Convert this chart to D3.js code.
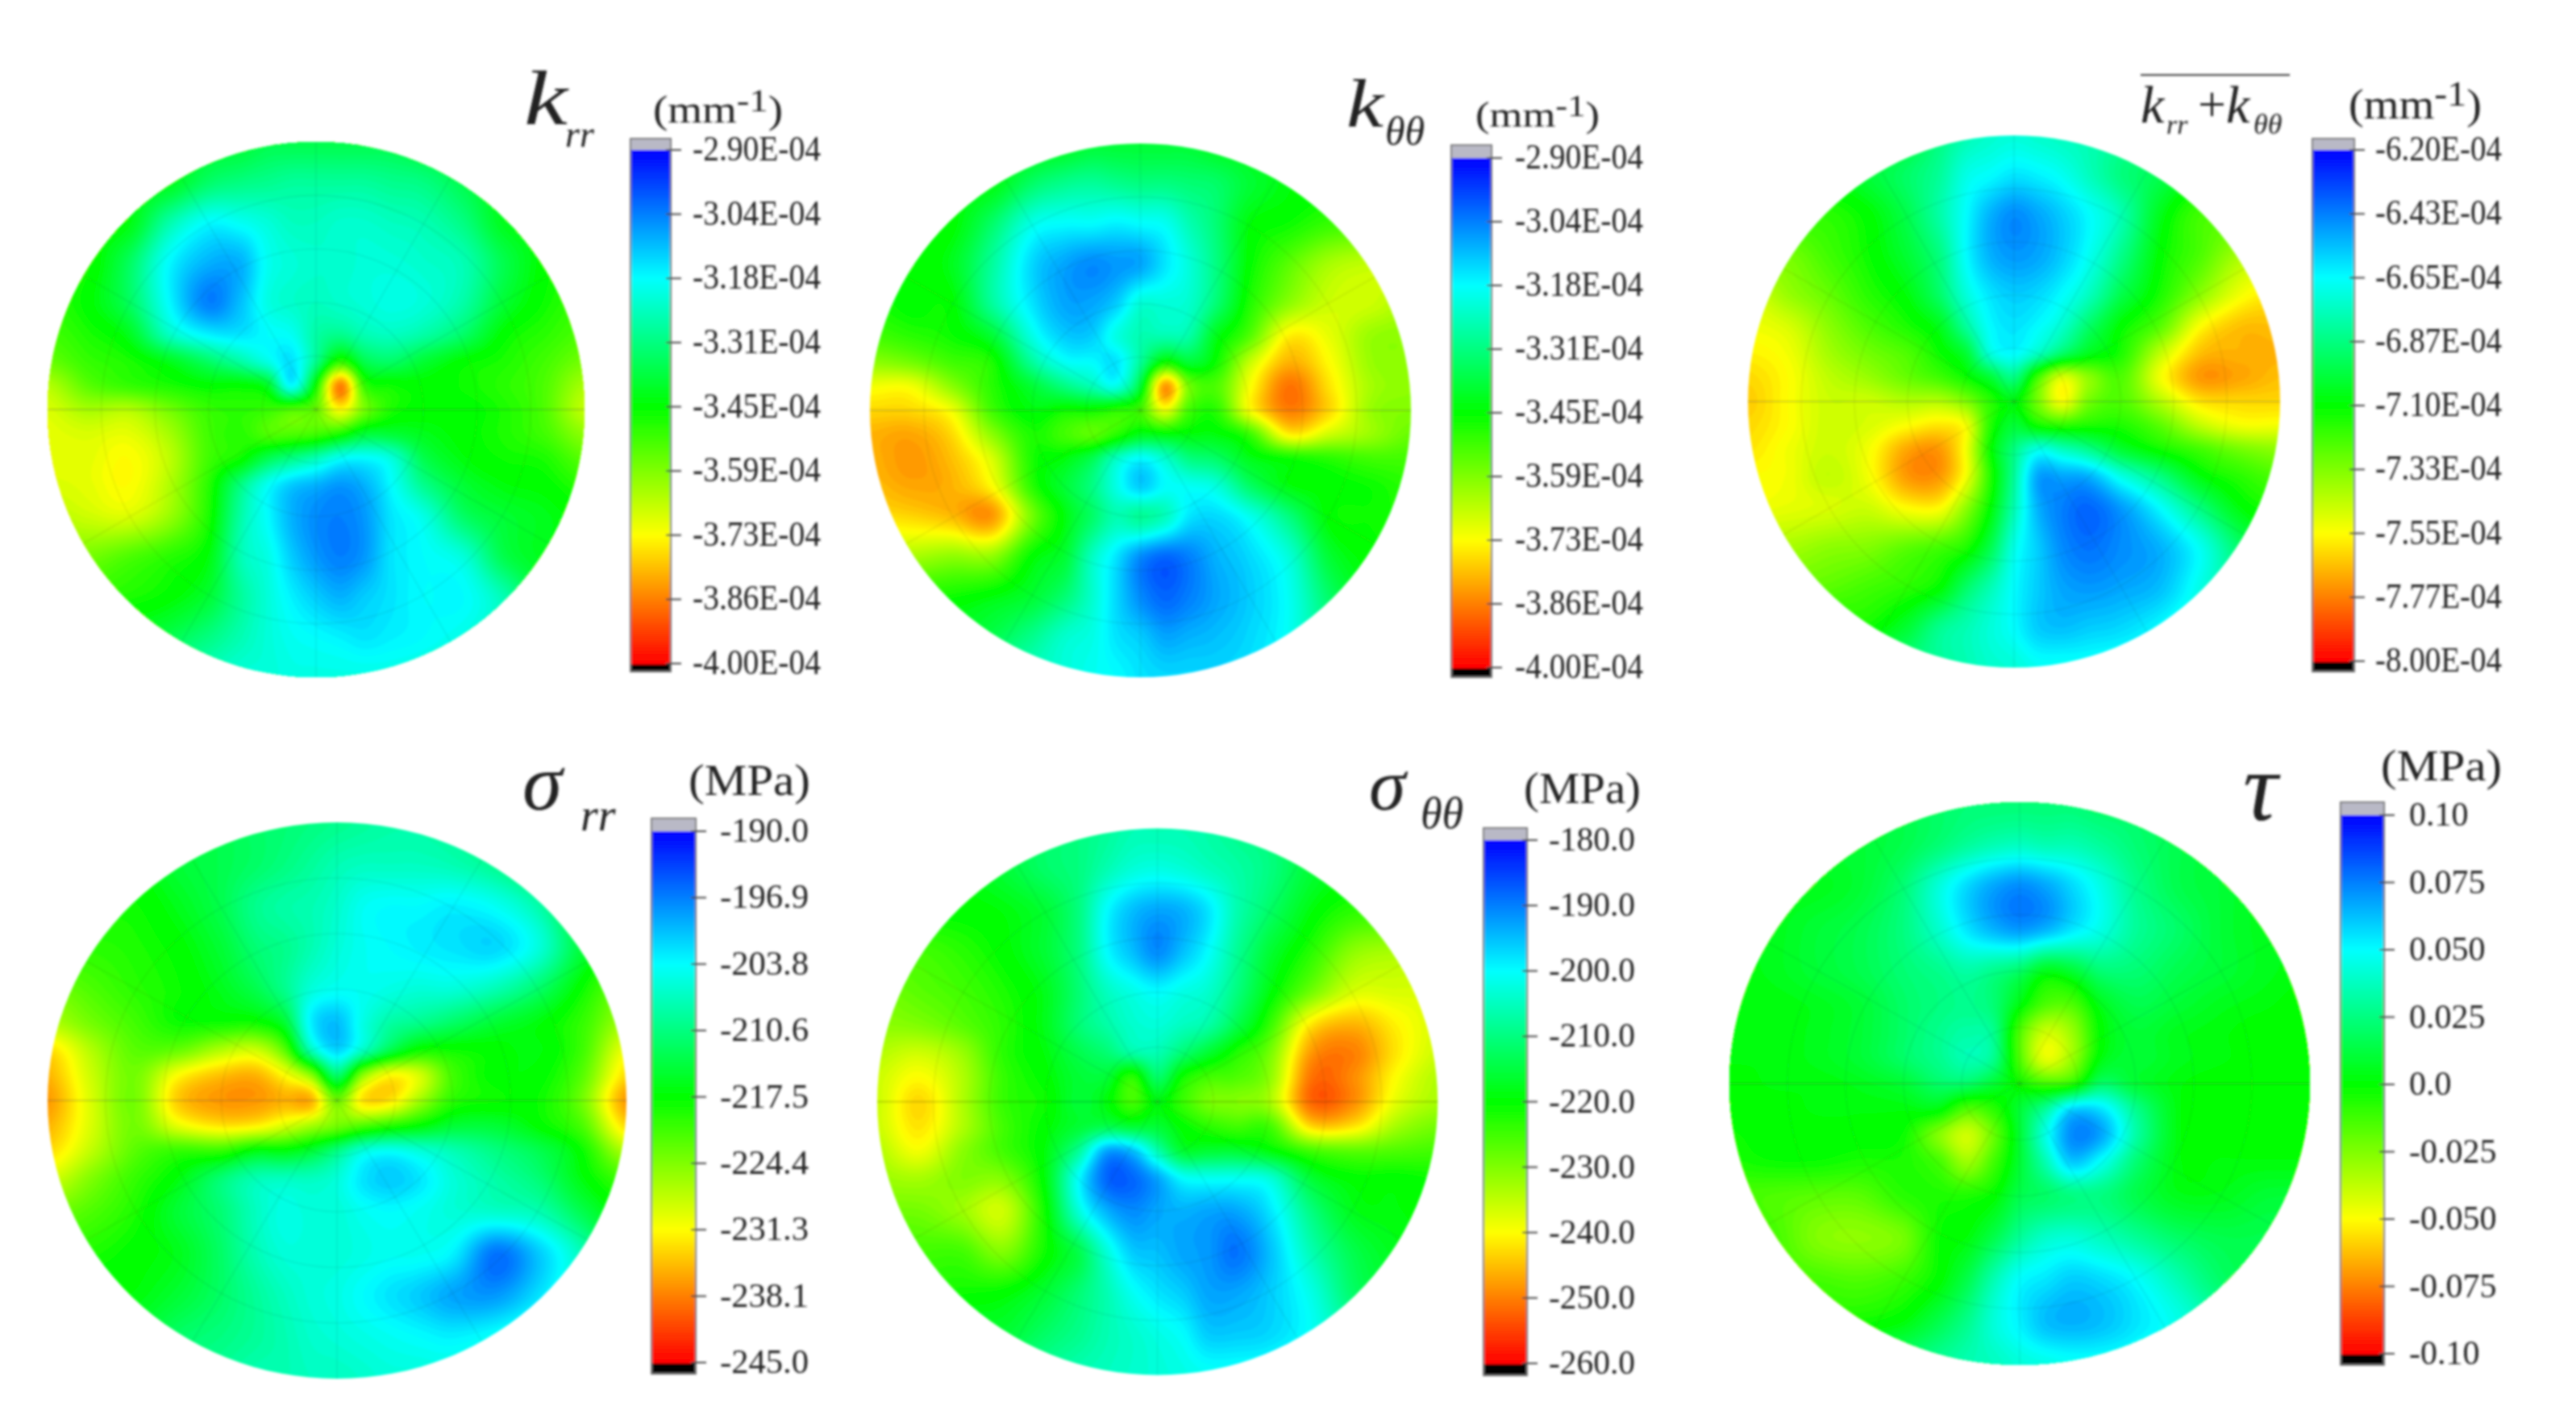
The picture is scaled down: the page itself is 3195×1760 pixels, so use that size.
<!DOCTYPE html>
<html><head><meta charset="utf-8">
<script src="https://cdnjs.cloudflare.com/ajax/libs/d3/7.8.5/d3.min.js"></script>
<style>html,body{margin:0;background:#fff}svg{display:block}text{font-family:"Liberation Serif",serif;fill:#222}</style>
</head><body>
<script>
// Legend position of each grid node: 0 = top of legend, 80 = bottom of legend.
const nodes = [-1,-.85,-.7,-.55,-.4,-.28,-.18,-.09,0,.09,.18,.28,.4,.55,.7,.85,1];

const ticksKrr = ["-2.90E-04","-3.04E-04","-3.18E-04","-3.31E-04","-3.45E-04","-3.59E-04","-3.73E-04","-3.86E-04","-4.00E-04"];
const ticksKtt = ticksKrr;
const ticksKsum = ["-6.20E-04","-6.43E-04","-6.65E-04","-6.87E-04","-7.10E-04","-7.33E-04","-7.55E-04","-7.77E-04","-8.00E-04"];
const ticksSrr = ["-190.0","-196.9","-203.8","-210.6","-217.5","-224.4","-231.3","-238.1","-245.0"];
const ticksStt = ["-180.0","-190.0","-200.0","-210.0","-220.0","-230.0","-240.0","-250.0","-260.0"];
const ticksTau = ["0.10","0.075","0.050","0.025","0.0","-0.025","-0.050","-0.075","-0.10"];

const gridKrr = [
[36,36,36,36,36,36,34,34,34,34,34,34,36,36,36,36,36],
[38,38,38,38,32,30,29,28,28,28,28,29,30,34,38,38,38],
[39,39,39,27,20,21,23,25,25,24,24,25,26,30,38,39,39],
[41,41,33,20,14,14,21,23,24,24,23,23,24,26,34,40,41],
[43,40,33,20,10,15,22,24,25,24,23,22,23,27,36,41,44],
[45,42,38,25,19,18,20,21,27,29,26,25,27,32,40,43,46],
[48,44,42,38,32,27,22,18,29,43,34,32,36,40,42,45,49],
[54,47,44,42,40,40,37,20,41,70,44,41,40,41,43,46,53],
[57,53,54,49,44,43,44,46,48,60,49,42,40,40,42,46,55],
[58,57,58,53,45,43,46,46,45,42,36,36,38,40,42,45,51],
[58,58,60,55,45,41,34,30,26,21,20,23,34,39,41,42,47],
[57,58,60,54,43,30,21,16,14,12,14,20,29,36,39,40,43],
[54,56,57,52,42,27,20,14,11,10,12,18,22,32,36,38,40],
[49,49,46,43,39,26,22,16,12,10,12,18,20,23,34,38,39],
[44,43,42,40,36,28,23,19,16,14,16,18,20,20,26,36,36],
[39,36,36,34,30,26,23,21,20,19,18,19,20,22,26,32,36],
[26,26,26,26,25,23,23,22,22,22,22,22,23,25,26,30,32]];

const gridKtt = [
[39,39,39,39,39,38,36,36,36,36,36,38,39,40,40,40,40],
[39,39,39,39,32,29,28,29,30,30,31,32,36,39,40,40,40],
[40,40,40,32,22,20,20,19,20,21,26,31,39,41,44,45,45],
[41,41,38,28,17,13,11,12,13,18,23,30,40,47,53,55,55],
[42,40,40,28,18,13,13,16,23,23,24,31,42,51,56,56,53],
[45,43,41,36,22,16,16,22,26,26,27,38,46,61,58,52,51],
[51,49,45,42,28,21,20,18,28,41,36,41,55,66,60,52,51],
[59,59,51,43,36,30,26,22,36,68,49,46,59,71,62,53,51],
[63,63,59,45,39,41,41,43,45,58,45,43,59,70,63,52,50],
[66,67,63,51,42,45,47,43,38,39,39,39,44,61,56,52,48],
[66,68,65,57,42,39,34,25,20,24,30,32,38,41,43,45,45],
[65,67,66,60,43,36,30,22,16,20,21,23,32,39,40,41,43],
[62,63,65,68,49,39,32,26,28,25,18,17,21,30,40,41,42],
[53,53,51,51,40,36,25,18,11,8,10,14,17,23,36,40,41],
[43,42,41,39,36,31,24,17,11,8,10,13,16,21,32,39,39],
[36,36,36,34,29,24,22,18,16,13,14,15,17,21,30,36,36],
[26,26,26,26,25,23,21,20,18,17,17,17,18,21,26,30,32]];

const gridKsum = [
[39,39,39,39,36,30,26,24,23,24,25,26,28,32,39,39,39],
[41,41,39,36,32,28,22,20,18,19,21,25,30,34,39,39,39],
[43,43,43,40,34,27,20,14,11,13,16,20,26,38,45,45,45],
[49,49,45,41,36,30,20,14,12,13,16,21,29,40,46,53,55],
[57,52,48,43,39,32,23,18,16,17,20,25,34,42,51,59,62],
[59,57,51,46,42,38,28,20,18,20,24,32,40,47,60,65,65],
[61,59,53,49,46,41,36,23,20,25,32,38,42,55,65,66,66],
[63,60,55,52,48,45,41,36,30,45,57,51,46,59,68,67,65],
[64,60,56,56,54,54,50,43,39,49,59,49,46,54,62,63,63],
[63,60,56,57,60,62,59,43,36,41,43,42,42,47,55,59,59],
[62,59,56,59,67,68,59,41,30,22,25,29,36,41,45,49,51],
[60,59,55,59,68,68,59,43,28,13,13,14,22,30,39,43,46],
[59,58,57,56,60,60,51,40,26,14,10,8,12,20,30,39,42],
[53,53,51,50,47,45,42,34,22,16,11,9,11,14,21,32,39],
[49,48,47,45,43,40,32,26,20,16,13,12,13,15,22,30,36],
[43,43,41,41,36,29,26,23,20,16,15,16,17,20,25,30,32],
[36,36,36,32,30,28,26,24,23,21,21,21,22,23,26,30,32]];

const gridSrr = [
[36,36,36,36,34,32,31,30,29,28,27,27,28,30,32,36,36],
[39,39,39,36,34,32,30,28,26,25,25,25,26,29,34,36,36],
[41,41,41,38,34,29,27,26,24,21,20,20,19,21,27,38,40],
[43,43,42,40,36,31,29,26,23,21,20,19,18,17,23,36,43],
[49,46,43,41,38,34,29,23,21,21,22,23,23,26,32,41,49],
[54,49,45,41,41,41,36,19,15,22,27,29,32,36,39,44,53],
[63,54,47,48,54,56,47,26,17,25,34,41,41,40,39,45,59],
[66,56,49,60,65,66,60,51,32,51,60,57,45,40,40,47,63],
[68,57,49,64,68,68,66,66,49,62,62,53,43,41,41,49,68],
[66,57,49,58,62,61,57,53,49,46,43,40,36,36,40,46,63],
[63,55,47,44,44,39,39,36,30,23,21,23,26,30,34,41,54],
[57,50,44,39,31,26,25,25,23,18,16,18,23,27,31,39,45],
[49,46,42,36,31,25,22,23,23,21,20,21,23,24,26,34,41],
[43,42,40,38,32,26,23,23,23,22,21,21,19,9,16,26,39],
[39,39,39,36,32,28,25,23,22,20,18,16,13,12,18,26,32],
[36,36,36,32,30,28,26,24,23,22,21,20,19,21,25,30,32],
[32,32,32,30,28,26,26,25,25,24,23,23,23,25,26,30,32]];

const gridStt = [
[39,39,39,36,32,30,28,26,26,26,27,29,31,36,39,39,39],
[39,39,39,36,32,30,26,23,22,23,25,27,30,36,39,39,39],
[40,40,40,39,36,30,20,15,13,14,18,26,32,39,43,43,43],
[45,45,43,40,36,30,20,15,11,15,20,28,36,43,51,53,53],
[49,47,45,42,38,31,25,22,20,22,24,30,39,49,57,57,57],
[51,50,47,43,38,31,27,24,23,25,27,34,44,62,66,61,57],
[54,56,52,43,39,34,31,27,26,31,36,42,49,68,70,62,56],
[56,60,54,44,40,36,36,43,32,41,45,46,51,71,69,60,54],
[56,63,54,44,41,36,39,45,39,44,49,50,53,72,69,58,53],
[56,62,54,45,40,36,34,36,36,40,43,45,45,63,62,53,49],
[54,59,51,45,39,28,13,15,26,36,36,36,39,45,47,46,45],
[52,53,50,50,39,20,8,8,13,20,21,21,23,36,40,40,41],
[49,49,52,56,41,23,14,11,13,14,13,13,18,30,38,39,40],
[45,45,45,50,41,34,23,16,15,13,12,9,15,26,34,38,39],
[42,42,41,40,36,31,26,21,18,16,13,13,16,22,32,36,36],
[39,39,36,36,32,29,26,24,22,20,16,16,17,21,28,32,32],
[32,32,32,30,28,26,25,24,23,22,21,21,22,25,28,30,32]];

const gridTau = [
[36,36,36,36,34,32,31,31,31,31,31,32,32,34,36,36,36],
[36,36,36,36,34,31,28,26,25,26,26,28,31,34,36,36,36],
[38,38,38,36,31,23,17,13,11,13,17,22,29,34,36,38,38],
[38,38,36,34,30,24,18,14,12,14,18,22,28,32,36,38,38],
[39,38,36,34,31,29,27,29,32,38,36,31,31,34,36,38,39],
[39,39,38,36,32,30,29,31,39,46,46,38,34,36,38,39,40],
[39,39,38,36,32,29,27,29,46,56,52,40,36,38,39,40,40],
[39,39,38,36,32,29,26,29,46,58,52,39,36,38,39,40,40],
[40,39,39,38,36,32,32,36,41,45,43,32,36,39,40,40,40],
[40,40,39,39,39,39,46,43,36,28,17,18,29,39,40,40,40],
[41,40,40,40,41,50,56,48,36,22,11,13,27,39,40,40,40],
[42,41,41,42,42,45,52,45,36,26,16,21,31,39,39,39,39],
[45,46,47,47,43,42,42,40,34,32,30,30,34,38,38,36,36],
[43,45,50,51,49,41,39,34,28,24,23,25,28,32,34,34,34],
[43,44,45,46,44,40,34,26,20,18,16,17,20,26,32,34,34],
[39,41,41,41,39,34,29,23,19,15,14,15,18,22,28,32,34],
[32,32,32,32,30,28,26,25,23,22,21,21,22,25,28,30,32]];

const panels = [
 {grid:gridKrr,ticks:ticksKrr,max:-2.9e-4,min:-4e-4,cx:392,cy:508,rx:333,ry:332,bar:[782,832,172,833],tick:[186,823],lx:859,lw:159,fs:44,unit:["(mm","-1",")"],ux:810,uy:152,uw:161,ufs:48},
 {grid:gridKtt,ticks:ticksKtt,max:-2.9e-4,min:-4e-4,cx:1414.5,cy:509,rx:335.5,ry:331,bar:[1800,1850,180,840],tick:[196,828],lx:1879,lw:159,fs:44,unit:["(mm","-1",")"],ux:1830,uy:157,uw:154,ufs:44},
 {grid:gridKsum,ticks:ticksKsum,max:-6.2e-4,min:-8e-4,cx:2498,cy:498,rx:330,ry:330,bar:[2868,2920,172,833],tick:[186,820],lx:2946,lw:157,fs:44,unit:["(mm","-1",")"],ux:2913,uy:147,uw:165,ufs:52},
 {grid:gridSrr,ticks:ticksSrr,max:-190,min:-245,cx:418,cy:1365,rx:359,ry:345,bar:[808,863,1015,1704],tick:[1031,1690],lx:893,lw:110,fs:42,unit:["(MPa)"],ux:854,uy:986,uw:151,ufs:54},
 {grid:gridStt,ticks:ticksStt,max:-180,min:-260,cx:1435.6,cy:1366.5,rx:347.6,ry:339,bar:[1840,1894,1027,1706],tick:[1042,1691],lx:1921,lw:107,fs:42,unit:["(MPa)"],ux:1890,uy:996,uw:145,ufs:54},
 {grid:gridTau,ticks:ticksTau,max:0.1,min:-0.1,cx:2505,cy:1344,rx:360,ry:349,bar:[2903,2957,995,1693],tick:[1011,1679],lx:2988,lw:null,fs:42,unit:["(MPa)"],ux:2953,uy:968,uw:150,ufs:54}
];

const W=3195,H=1760;
const svg=d3.select("body").append("svg").attr("width",W).attr("height",H);
const defs=svg.append("defs");
defs.append("filter").attr("id","soft").attr("filterUnits","userSpaceOnUse").attr("x",0).attr("y",0).attr("width",W).attr("height",H)
  .append("feGaussianBlur").attr("stdDeviation",1.6);
const root=svg.append("g").attr("filter","url(#soft)");

const rainbow=["#0000ff","#00ffff","#00ff00","#ffff00","#ff0000"];
const idx=d3.scaleLinear().domain(nodes).range(nodes.map((d,i)=>i));
function cr(p0,p1,p2,p3,t){return .5*((2*p1)+(-p0+p2)*t+(2*p0-5*p1+4*p2-p3)*t*t+(-p0+3*p1-3*p2+p3)*t*t*t);}

panels.forEach((p,pi)=>{
  const toValue=d3.scaleLinear().domain([0,80]).range([p.max,p.min]);
  const color=d3.scaleLinear().domain([0,.25,.5,.75,1].map(t=>p.max+(p.min-p.max)*t)).range(rainbow).clamp(true);
  const g=root.append("g");
  const clipId="clip"+pi;
  defs.append("clipPath").attr("id",clipId).append("ellipse").attr("cx",p.cx).attr("cy",p.cy).attr("rx",p.rx).attr("ry",p.ry);
  const gc=g.append("g").attr("clip-path",`url(#${clipId})`);
  const step=3, nx=Math.ceil(2*p.rx/step)+1, ny=Math.ceil(2*p.ry/step)+1;
  const vals=new Float64Array(nx*ny);
  const at=(r,c)=>p.grid[Math.max(0,Math.min(16,r))][Math.max(0,Math.min(16,c))];
  const us=d3.range(nx).map(i=>idx(Math.max(-1,Math.min(1,(i*step-p.rx)/p.rx))));
  const vs=d3.range(ny).map(j=>idx(Math.max(-1,Math.min(1,(j*step-p.ry)/p.ry))));
  for(let j=0;j<ny;j++){
    const rf=vs[j], r0=Math.min(15,Math.floor(rf)), tr=rf-r0;
    for(let i=0;i<nx;i++){
      const cf=us[i], c0=Math.min(15,Math.floor(cf)), tc=cf-c0;
      const col=[-1,0,1,2].map(dr=>cr(at(r0+dr,c0-1),at(r0+dr,c0),at(r0+dr,c0+1),at(r0+dr,c0+2),tc));
      const lev=Math.max(0,Math.min(80,cr(col[0],col[1],col[2],col[3],tr)));
      vals[j*nx+i]=toValue(lev);
    }
  }
  const nT=96, dv=(p.max-p.min)/nT;
  const thresholds=d3.range(0,nT).map(i=>p.min+i*dv);
  const contours=d3.contours().size([nx,ny]).smooth(true).thresholds(thresholds)(Array.from(vals));
  const path=d3.geoPath();
  const x0=p.cx-p.rx-step/2, y0=p.cy-p.ry-step/2;
  gc.append("g").attr("transform",`translate(${x0},${y0}) scale(${step})`)
    .selectAll("path").data(contours).join("path")
    .attr("d",path).attr("fill",d=>color(d.value+dv/2));
  const rings=[.2,.4,.6,.8];
  const grid=gc.append("g").attr("fill","none").attr("stroke","#333").attr("stroke-width",1.6).attr("stroke-opacity",.09);
  grid.selectAll("ellipse").data(rings).join("ellipse")
    .attr("cx",p.cx).attr("cy",p.cy).attr("rx",d=>d*p.rx).attr("ry",d=>d*p.ry);
  grid.selectAll("line").data(d3.range(0,180,30)).join("line")
    .attr("x1",a=>p.cx-p.rx*Math.cos(a*Math.PI/180)).attr("y1",a=>p.cy-p.ry*Math.sin(a*Math.PI/180))
    .attr("x2",a=>p.cx+p.rx*Math.cos(a*Math.PI/180)).attr("y2",a=>p.cy+p.ry*Math.sin(a*Math.PI/180))
    .attr("stroke-opacity",a=>a===0?.28:.09);
  const [bx0,bx1,by0,by1]=p.bar;
  const y=d3.scaleLinear().domain([p.max,p.min]).range(p.tick);
  const bar=g.append("g");
  bar.append("rect").attr("x",bx0).attr("y",by0).attr("width",bx1-bx0).attr("height",p.tick[0]-by0).attr("fill","#b9b9c6");
  bar.append("rect").attr("x",bx0).attr("y",p.tick[1]-2).attr("width",bx1-bx0).attr("height",by1-p.tick[1]+2).attr("fill","#000");
  const stops=d3.range(0,160);
  bar.selectAll("rect.s").data(stops).join("rect").attr("class","s")
    .attr("x",bx0).attr("width",bx1-bx0)
    .attr("y",i=>y(p.max+(p.min-p.max)*i/160)).attr("height",(p.tick[1]-p.tick[0])/160+1)
    .attr("fill",i=>color(p.max+(p.min-p.max)*(i+.5)/160));
  bar.append("rect").attr("x",bx0).attr("y",by0).attr("width",bx1-bx0).attr("height",by1-by0).attr("fill","none").attr("stroke","#777").attr("stroke-width",2);
  const tv=p.ticks.map((t,i)=>p.max+(p.min-p.max)*i/8);
  bar.selectAll("line").data(tv).join("line")
    .attr("x1",bx1-6).attr("x2",bx1+13).attr("y1",d=>y(d)).attr("y2",d=>y(d)).attr("stroke","#444").attr("stroke-width",2);
  bar.selectAll("text").data(p.ticks).join("text")
    .attr("x",p.lx).attr("y",(d,i)=>y(tv[i])+13).attr("font-size",p.fs)
    .attr("textLength",d=>p.lw?p.lw*(d.length/p.ticks[1].length):null)
    .attr("lengthAdjust","spacingAndGlyphs").text(d=>d);
  const u=g.append("text").attr("x",p.ux).attr("y",p.uy).attr("font-size",p.ufs)
    .attr("textLength",p.uw).attr("lengthAdjust","spacingAndGlyphs");
  u.append("tspan").text(p.unit[0]);
  if(p.unit.length>1){
    u.append("tspan").attr("dy",-p.ufs*.3).attr("font-size",p.ufs*.85).text(p.unit[1]);
    u.append("tspan").attr("dy",p.ufs*.3).text(p.unit[2]);
  }
});

function T(x,y,fs,s,w,len){const t=root.append("text").attr("x",x).attr("y",y).attr("font-size",fs).attr("font-style","italic").attr("font-weight",w||"normal").text(s);
  if(len)t.attr("textLength",len).attr("lengthAdjust","spacingAndGlyphs");return t;}
T(650,154,96,"k",null,54);T(701,182,46,"rr");
T(1670,157,84,"k",null,46);T(1718,180,50,"θθ");
root.append("line").attr("x1",2655).attr("x2",2840).attr("y1",93).attr("y2",93).attr("stroke","#333").attr("stroke-width",2);
T(2655,152,66,"k");T(2687,166,34,"rr");
root.append("text").attr("x",2726).attr("y",150).attr("font-size",62).text("+");
T(2761,152,66,"k");T(2795,166,36,"θθ");
T(648,1004,100,"σ");T(720,1030,56,"rr");
T(1698,1004,92,"σ");T(1762,1027,54,"θθ");
T(2782,1017,120,"τ");
</script>
</body></html>
